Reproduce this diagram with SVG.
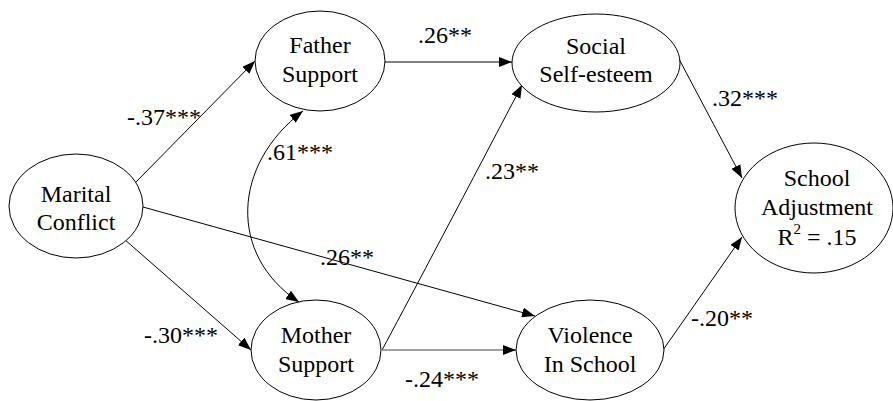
<svg xmlns="http://www.w3.org/2000/svg" width="893" height="401" viewBox="0 0 893 401">
  <defs>
    <marker id="arrow" markerUnits="userSpaceOnUse" markerWidth="13" markerHeight="10" refX="13" refY="5" orient="auto-start-reverse">
      <path d="M0,0 L13,5 L0,10 Z" fill="#000"/>
    </marker>
    <style>
      text { font-family: 'Liberation Serif', 'DejaVu Serif', serif; font-size: 24px; fill: #000; }
      .node ellipse { fill: #fff; stroke: #000; stroke-width: 1; }
      .node text { text-anchor: middle; }
      .edge { fill: none; stroke: #000; stroke-width: 1; marker-end: url(#arrow); }
      .edge.grey { stroke: #808080; stroke-width: 1.6; }
      .both { marker-start: url(#arrow); }
    </style>
  </defs>

  <rect width="893" height="401" fill="#fff"/>

  <!-- paths between constructs -->
  <g id="connectors">
    <line class="edge" x1="135" y1="183" x2="255" y2="61"/>
    <line class="edge" x1="124" y1="239" x2="251" y2="350"/>
    <line class="edge" x1="143" y1="207" x2="535" y2="316"/>
    <line class="edge" x1="385" y1="62" x2="512" y2="62"/>
    <path class="edge" d="M382,350 Q416,287 522,85"/>
    <line class="edge grey" x1="382" y1="350" x2="516" y2="350"/>
    <line class="edge" x1="679" y1="59" x2="742" y2="178"/>
    <line class="edge" x1="663" y1="350" x2="742" y2="237"/>
    <path class="edge both" d="M303,111 C232,165 228,255 299,302"/>
  </g>

  <!-- path coefficients -->
  <g id="labels">
    <text x="127" y="125">-.37***</text>
    <text x="267" y="160">.61***</text>
    <text x="144" y="343">-.30***</text>
    <text x="418" y="43">.26**</text>
    <text x="485" y="179">.23**</text>
    <text x="320" y="265">.26**</text>
    <text x="405" y="387">-.24***</text>
    <text x="712" y="106">.32***</text>
    <text x="691" y="326">-.20**</text>
  </g>

  <g id="marital-conflict" class="node">
    <ellipse cx="76" cy="206" rx="67" ry="52"/>
    <text x="76" y="202">Marital</text>
    <text x="76" y="230">Conflict</text>
  </g>

  <g id="father-support" class="node">
    <ellipse cx="320" cy="61" rx="65" ry="50"/>
    <text x="320" y="53">Father</text>
    <text x="320" y="82">Support</text>
  </g>

  <g id="mother-support" class="node">
    <ellipse cx="316" cy="350" rx="65" ry="50"/>
    <text x="316" y="343">Mother</text>
    <text x="316" y="372">Support</text>
  </g>

  <g id="social-self-esteem" class="node">
    <ellipse cx="596" cy="63" rx="84" ry="49"/>
    <text x="596" y="54">Social</text>
    <text x="596" y="82">Self-esteem</text>
  </g>

  <g id="violence-in-school" class="node">
    <ellipse cx="590" cy="350" rx="74" ry="50"/>
    <text x="590" y="343">Violence</text>
    <text x="590" y="372">In School</text>
  </g>

  <g id="school-adjustment" class="node">
    <ellipse cx="814" cy="208" rx="79" ry="65"/>
    <text x="817" y="186">School</text>
    <text x="817" y="215">Adjustment</text>
    <text x="817" y="245">R<tspan font-size="15" dy="-11">2</tspan><tspan dy="11"> = .15</tspan></text>
  </g>
</svg>
